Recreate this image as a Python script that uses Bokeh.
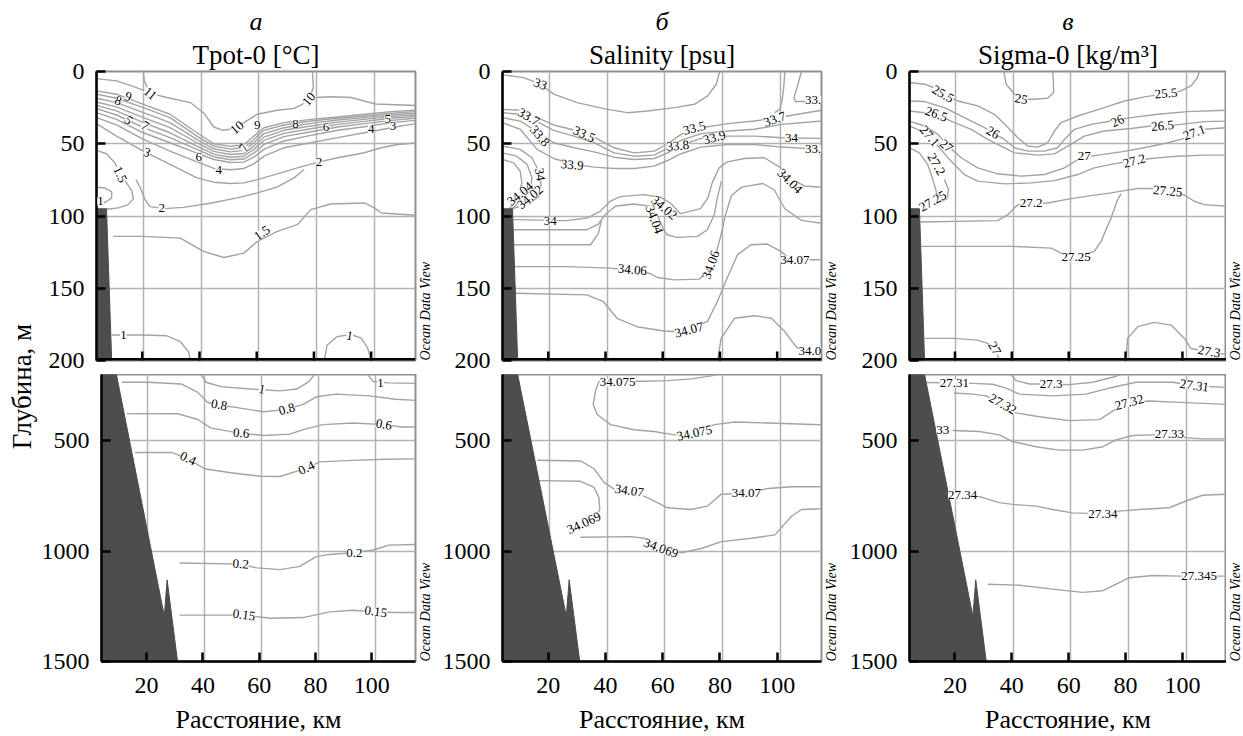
import math
from bokeh.plotting import figure
from bokeh.models import ColumnDataSource, Range1d, FixedTicker, Label, LabelSet, Title, Span
from bokeh.layouts import row, column
from bokeh.core.properties import value
from bokeh.embed import file_html
from bokeh.resources import INLINE

SERIF = "Liberation Serif"

# ---------------- texts ----------------
panel_letters = ["а", "б", "в"]
panel_titles = ["Tpot-0 [°C]", "Salinity [psu]", "Sigma-0 [kg/m³]"]
x_label = "Расстояние, км"
y_label = "Глубина, м"
watermark = "Ocean Data View"

# ---------------- axes ----------------
km_range = (4.0, 115.5)
x_ticks = [20, 40, 60, 80, 100]
grid_km = [20.3, 40.6, 60.7, 81.0, 101.3]
upper_range = (200, 0)
lower_range = (1500, 200)
upper_ticks = [0, 50, 100, 150, 200]
lower_ticks = [500, 1000, 1500]
upper_grid = [50, 100, 150]
lower_grid = [500, 1000]

# ---------------- bottom topography ----------------
bathy_upper_km = [4.0, 7.5, 9.3, 4.0]
bathy_upper_depth = [95, 95, 200, 200]
bathy_lower_km = [4.0, 9.3, 26.3, 27.3, 31.0, 4.0]
bathy_lower_depth = [200, 200, 1295, 1130, 1500, 1500]

# ---------------- (a) potential temperature, 0-200 m ----------------
temp_km = [4, 11, 20.4, 29.7, 39.1, 45, 50.8, 55.5, 59, 62.5, 69.5, 78.9, 88.3, 97.6, 107, 115.5]
temp_upper_lines = [
    ([4, 11, 18, 21.6], [4.9, 6.5, 11.1, 13.9]),
    ([20.4, 20.7, 22.1], [0, 6.5, 12.3]),
    ([23.3, 28.6, 36.8, 41.4, 45, 48.2, 51.4, 55.5, 60.2, 67.2, 73, 76, 78.3, 79.8, 79.5],
     [15.3, 18, 21.5, 28.5, 38.4, 40.7, 39.8, 35.4, 29.6, 26.8, 25.5, 22.7, 19.2, 11.1, 0]),
    ([80.5, 86, 93, 101.5, 115.5], [18, 17.5, 18, 22.5, 23.5]),
    (temp_km, [13.4, 15.7, 22.7, 29.6, 42.4, 50, 51.8, 50.9, 44.7, 38.9, 35.4, 33.1, 31.5, 29.6, 27.8, 26.8]),
    (temp_km, [15.7, 18.5, 25, 31.9, 44.7, 51.6, 53.7, 52.8, 47, 40.7, 37, 34.3, 32.4, 30.8, 28.9, 27.8]),
    (temp_km, [18.5, 21.5, 28.5, 35.4, 47, 53.5, 55.6, 54.6, 49.3, 43, 38.9, 35.9, 33.6, 31.9, 30.1, 28.9]),
    (temp_km, [21.1, 24.5, 31.9, 38.9, 49.3, 55.3, 57.4, 56.7, 51.6, 45.4, 40.7, 37.7, 35, 33.1, 31.2, 30.1]),
    (temp_km, [23.4, 27.3, 35.4, 42.4, 51.6, 57.2, 59.3, 58.6, 53.9, 47.7, 42.8, 39.6, 36.6, 34.5, 32.4, 31.2]),
    (temp_km, [25.7, 30.1, 38.9, 45.8, 53.9, 59, 61.1, 60.6, 56.5, 50.5, 45.1, 41.7, 38.4, 36.1, 33.8, 32.4]),
    (temp_km, [28.5, 33.1, 42.4, 49.3, 56.5, 60.9, 63, 62.7, 59.3, 53.9, 48.1, 44.2, 40.7, 38.2, 35.4, 33.8]),
    (temp_km, [31.9, 37, 47, 55.1, 62.5, 67.1, 68, 67.1, 63.9, 58.6, 52.8, 49.3, 45.8, 42.4, 38.9, 36.1]),
    ([4, 11, 20.4, 29.7, 39.1, 45, 50.8, 55.5, 60.2, 67.2, 74.2, 81.8, 88.3, 97.6, 103.5, 109.3, 115.5],
     [36.1, 44.7, 55.1, 64.3, 73.6, 76.6, 77.5, 77.1, 74.8, 70.8, 66.7, 62.5, 59.7, 56.2, 52.8, 50.5, 49.5]),
    ([17.8, 19.4, 21, 22.7, 27.4, 34.4, 43.8, 53.2, 60.2, 67.2, 73, 76.6],
     [74.8, 81, 88.7, 93.5, 94.9, 94, 91.2, 87.5, 84, 79.9, 73.6, 67.8]),
    ([4, 7.5, 10.4, 12.2, 14.5, 16.3, 16.9, 15.1, 11.6, 8.5, 7.5],
     [54.6, 56.9, 63.2, 70.8, 77.1, 82.4, 88, 92.1, 94.4, 95.2, 95]),
    ([4, 6.9, 9.3, 9.3, 7.3, 5.2], [80.1, 80.6, 83.3, 87.5, 90.3, 91.7]),
    ([9.9, 20.4, 33.3, 41.4, 48.5, 55.5, 60.2, 67.2, 74.2, 78.9, 85.9, 97.6, 101.1, 103.5, 115.5],
     [114.1, 114.1, 115.3, 124.5, 128.7, 125.7, 117.6, 110.6, 106, 95.6, 91.7, 91, 94.4, 97.9, 99.5]),
    ([9.3, 20.4, 28.6, 33.3, 36.2, 36.8], [182.4, 182.4, 182.9, 187, 194, 200]),
    ([83.6, 84.6, 88, 93, 96.5, 98.8, 100], [200, 189.5, 183.5, 182, 184.5, 191.5, 200]),
]
temp_upper_labels = [
    ("11", 22.7, 15.3, -40), ("9", 15.1, 17.6, -20), ("8", 11.6, 20.4, -20), ("5", 15.1, 33.8, -40),
    ("7", 21, 37.7, -30), ("10", 53.2, 38.9, 40), ("9", 60.2, 37, 0), ("8", 73.6, 36.1, 0),
    ("6", 84.2, 38.4, 0), ("4", 100, 40, 0), ("5", 105.8, 33.1, 0), ("3", 107.6, 37.7, 0),
    ("10", 78.3, 19.2, 50), ("6", 39.7, 59.3, 0), ("7", 55.5, 52.8, 60), ("4", 46.7, 68.5, 0),
    ("3", 21.6, 56.2, -20), ("2", 81.8, 62.5, 0), ("2", 26.8, 94.4, 0), ("1.5", 12.2, 71.3, -65),
    ("1", 5.4, 89.8, 0), ("1.5", 61.9, 111.8, 35), ("1", 13.4, 182.4, 0), ("1", 92.5, 183, -10),
]

# ---------------- (a) potential temperature, 200-1500 m ----------------
temp_lower_lines = [
    ([39.3, 41.1, 46.4, 56.9, 61, 67.4, 73.3, 77.4, 79.7], [200, 235, 255, 266, 269, 274, 266, 235, 200]),
    ([98.5, 100.5, 106, 115.5], [200, 232, 238, 240]),
    ([11.3, 20.6, 32.3, 38.2, 41.7, 45.8, 52.2, 61.6, 69.8, 75.6, 80.3, 87.3, 99, 108.4, 115.5],
     [235, 235, 243, 281, 327, 338, 350, 369, 358, 335, 301, 289, 297, 312, 317]),
    ([13, 31.1, 38.2, 42.9, 51, 53.6, 61.6, 70.9, 75.6, 82.6, 93.2, 104.3, 110.7, 115.5],
     [377, 378, 404, 443, 461, 466, 476, 470, 450, 427, 420, 427, 438, 438]),
    ([15.9, 28.8, 34.7, 40.5, 49.9, 60.4, 67.4, 76.8, 81.5, 93.2, 104.9, 115.5],
     [553, 553, 581, 627, 645, 661, 662, 624, 596, 589, 584, 582]),
    ([31.7, 53.4, 59.2, 67.4, 74.4, 80.3, 85, 93.8, 100.2, 106, 115.5],
     [1054, 1059, 1076, 1084, 1069, 1025, 1015, 1007, 996, 973, 970]),
    ([31.7, 54.6, 63.9, 75.6, 85, 93.2, 101.4, 108.4, 115.5],
     [1290, 1290, 1304, 1301, 1275, 1268, 1275, 1278, 1278]),
]
temp_lower_labels = [
    ("1", 61, 267, -10), ("1", 103.1, 240, 0), ("0.8", 45.8, 338, -10), ("0.8", 69.8, 358, 15),
    ("0.6", 53.6, 466, -5), ("0.6", 104.3, 427, -10), ("0.4", 34.7, 581, -25), ("0.4", 76.8, 624, 25),
    ("0.2", 53.4, 1059, -5), ("0.2", 93.8, 1007, 0), ("0.15", 54.6, 1290, -8), ("0.15", 101.4, 1275, -8),
]

# ---------------- (б) salinity, 0-200 m ----------------
sal_km = [4, 10.2, 16.1, 21.9, 29, 36, 43, 50, 57, 61.7, 66.4, 73.4, 82.8, 92.1, 101.5, 115.5]
sal_upper_lines = [
    ([4.4, 11.4, 17.2, 21.9, 30.1, 40.6, 47.7, 54.7, 64.2, 71.1, 75.7, 78.7, 79.9],
     [2.3, 4.2, 8.8, 15.7, 21.5, 26.2, 28.5, 27.3, 25, 22.7, 16.9, 8.8, 0]),
    ([102.7, 102.3, 101.7, 100.9, 99.2], [0, 11.1, 20.4, 26.2, 28.5]),
    ([108.5, 107.1, 105.9, 106.4, 110.3], [0, 10, 18, 20.8, 20.8]),
    (sal_km, [26.2, 26.8, 31.9, 37, 40.5, 45.4, 52.8, 56.3, 55.1, 50, 43.5, 38.9, 36.1, 34.3, 31.5, 26.8]),
    (sal_km, [28.5, 29.6, 34.7, 40.7, 44.7, 49.3, 56.3, 58.6, 57.9, 53.2, 47.7, 43, 41.2, 40, 36.6, 34.3]),
    (sal_km, [31.9, 34.3, 41.7, 49.3, 52.8, 55.6, 59.3, 60.9, 60.2, 56.3, 50.9, 46.3, 44.7, 44.7, 45.8, 46.3]),
    (sal_km, [35.4, 40, 53.9, 60.2, 64.3, 66.2, 67.1, 67.1, 65.5, 61.6, 56.9, 52.3, 50.5, 50.5, 52.3, 53.9]),
    ([4, 10.2, 14.3, 16.7, 17.5, 16.7, 13.7, 9.0, 7.5], [51.6, 53.9, 59.7, 69, 78.2, 86.3, 91, 94, 95]),
    ([4, 9.0, 12.6, 14.3, 13.7, 11.4, 7.2], [56.3, 58.6, 64.3, 73.6, 81.7, 88.7, 95]),
    ([4, 7.9, 10.2, 10.8, 9.6, 6.5], [60.9, 63.2, 69, 77.1, 85.2, 95]),
    ([7.8, 26.4, 33.5, 38.1, 41.6, 45.1, 53.3, 59.2, 62.7, 66.2, 73.2, 75.8, 77.3, 79.7, 82.6, 88.5, 95.5,
      101.3, 104.9, 109.5, 115.5],
     [102.5, 103.2, 101.4, 96.8, 89.8, 86.6, 85.2, 87, 91, 98.4, 94.9, 87.5, 77.1, 66.7, 62.5, 60.2, 59.7,
      66.7, 74.3, 79.2, 80.1]),
    ([7.9, 33.5, 37.5, 39.9, 43.4, 49.8, 55.7, 58.3, 60.1, 61.5, 65, 72.1, 75.6, 78, 79.1, 80.5],
     [109.5, 109.5, 105.6, 99.1, 93.3, 91.7, 93.3, 100.2, 108.3, 113, 114.8, 114.1, 109.5, 99.1, 87.5, 75.9]),
    ([8.0, 34.8, 37.5, 38.6], [119.9, 119.9, 112, 103]),
    ([8.2, 26.6, 41.8, 55.3, 58.2, 64, 72.8, 76.3, 78.7, 80.4, 81.8, 84, 87.5, 95, 99, 102.7, 108.5, 115.5],
     [135, 135, 136.1, 139.6, 142.6, 144.2, 143.7, 137.3, 125.7, 113, 100.2, 86, 80, 77.5, 82, 95, 103, 105]),
    ([8.5, 33.5, 39.3, 44, 51, 60.4, 65.6, 75.6, 79.1, 82, 86.1, 90.8, 96.6, 101.3, 104.8, 113, 115.5],
     [153.5, 154.6, 159.3, 170.8, 176.6, 179.6, 180.1, 173.1, 159.3, 145.4, 126.9, 119.9, 119.4, 124.5,
      130.3, 130.3, 130.3]),
    ([79.2, 80.4, 85.1, 92.1, 98, 102.7, 106.2, 108.5], [200, 184.7, 170.8, 169, 170.8, 180.1, 189.4, 193.5]),
]
sal_upper_labels = [
    ("33", 17.2, 8.8, -20), ("33.7", 13.1, 31.5, -30), ("33.8", 17, 44.7, -50), ("33.5", 32.5, 43.5, -25),
    ("33.9", 28.4, 64.8, -5), ("34", 17, 71.3, -80), ("34.04", 10.2, 84.7, 40), ("34.02", 13.7, 87, 40),
    ("34", 20.7, 103.7, 0), ("33.5", 71.1, 39.3, 15), ("33.8", 65.3, 51.6, 5), ("33.9", 78.1, 45.8, 15),
    ("33.7", 99.2, 33.1, 20), ("34", 105, 46.3, 0), ("33.", 112.6, 53.9, 0), ("33.", 112.6, 19.5, 0),
    ("34.04", 104.4, 75.9, -45), ("34.02", 60.5, 94.4, -40), ("34.04", 57, 102.5, -70),
    ("34.06", 49.4, 137.3, -5), ("34.06", 76.9, 133.8, 70), ("34.07", 69.2, 179, 15),
    ("34.07", 106.2, 130.3, 0), ("34.0", 111.4, 193.5, 0),
]

# ---------------- (б) salinity, 200-1500 m ----------------
sal_lower_lines = [
    ([79, 77, 70, 61.7, 53.5, 44.2, 37.7, 36.5, 35.7, 37.1, 41.8, 50, 57, 64.1, 71.1, 78.1, 85.1, 96.8, 115.5],
     [200, 206, 220, 227.6, 230.7, 230.7, 232, 273.7, 335.2, 381.2, 427.3, 450.4, 458, 473.4, 465.7, 427.3,
      415, 419.6, 427.3]),
    ([16.1, 31.3, 36, 39.5, 43, 48.3, 54.7, 61.7, 69.9, 75.7, 80.4, 89.2, 96.8, 105, 115.5],
     [588.6, 591.7, 627, 688.4, 719.2, 726.8, 757.6, 803.6, 811.3, 796, 742.2, 737.6, 716.1, 708.4, 708.4]),
    ([16.8, 31.3, 36, 37.7, 38, 36.9], [680.8, 683.8, 711.5, 757.6, 811.3, 842]),
    ([31.3, 48.9, 53.6, 59.4, 66.5, 73.5, 80.5, 91, 99.2, 105, 108.5, 115.5],
     [937.3, 934.2, 941.9, 985, 1007.4, 988, 957.2, 941.9, 926.5, 842, 811.3, 808.3]),
]
sal_lower_labels = [
    ("34.075", 44.2, 236, 0), ("34.075", 71.1, 466, 12), ("34.07", 48.3, 727, -8),
    ("34.07", 89.2, 738, 0), ("34.069", 32.5, 873, 25), ("34.069", 59.4, 988, -20),
]

# ---------------- (в) sigma-0, 0-200 m ----------------
dens_upper_lines = [
    ([37.2, 38, 40.9, 43.3, 47.4, 52.6, 54.7, 54.6, 54.4], [0, 8.8, 15.7, 19.2, 19.2, 18.5, 14.6, 6.5, 0]),
    ([4, 9.3, 14, 15.7, 21, 28, 33.9, 37.6, 42.1, 45.6, 49.1, 52.6, 55, 57.3, 63.2, 72.5, 79.6, 86.6, 94.2,
      99.5, 103, 105.3, 105.9],
     [7.6, 8.8, 12.3, 15.7, 20.4, 23.8, 29.6, 36.6, 45.8, 51.6, 52.3, 49.3, 41.2, 35.4, 30.8, 25, 20.4, 17.6,
      15.3, 13.4, 10, 4.2, 0]),
    ([4, 9.3, 16.3, 23.3, 30.4, 33.3, 37.4, 40.9, 45.6, 51.5, 56.1, 58.5, 62, 67.9, 74.9, 81.9, 91.3, 101.8, 115.5],
     [20.4, 20.8, 25, 31.9, 38.9, 42.4, 47, 52.8, 55.1, 55.1, 52.8, 47, 40, 36.6, 34.3, 31.9, 29.6, 27.8, 26.8]),
    ([4, 9.3, 13.4, 18.6, 25.7, 31.5, 37.4, 40.9, 49.1, 55, 59.7, 65.5, 72.5, 81.9, 88.9, 93, 99.5, 107.7, 115.5],
     [27.3, 28.5, 29.6, 34.3, 40, 47, 52.8, 56.3, 57.9, 57, 51.6, 44.7, 41.2, 39.4, 37.7, 37.7, 36.6, 34.7, 34.3]),
    ([4, 9.3, 14, 17.5, 22.2, 28, 35, 43.3, 51.5, 58.5, 64.3, 70.2, 78.4, 86.6, 94.8, 101.8, 107.7, 115.5],
     [34.3, 37.7, 43.5, 51.6, 59.7, 66.7, 70.8, 72.4, 71.3, 66.7, 59.7, 57.9, 55.6, 52.8, 49.3, 45.8, 40, 38.9]),
    ([4, 8.1, 11, 14, 18.6, 23.3, 28, 37.4, 46.8, 55, 63.2, 69, 74.9, 79.6, 83.1, 88.9, 98.3, 107.7, 115.5],
     [37.7, 41.2, 44.7, 51.6, 62, 71.3, 75.9, 77.8, 77.1, 75.5, 71.3, 66.7, 64.3, 62.7, 62, 60.2, 58.6, 57.9, 57.9]),
    ([4, 7.5, 10.4, 12.2, 13.4, 13.7], [52.8, 56.3, 64.3, 74.8, 82.9, 88.7]),
    ([16.3, 17.7, 17.2, 14.5], [74.8, 81.7, 88, 90.3]),
    ([7.9, 35, 38.6, 41.5, 42.7, 52.6, 60.8, 67.9, 74.9, 79.6, 84.3, 89.5, 94.8, 100.7, 104.2, 107.7, 115.5],
     [104.2, 103.2, 99.1, 93.3, 91.7, 91, 88, 85.9, 84, 82.4, 81, 81, 82.9, 85.6, 89.8, 92.1, 93.3]),
    ([8.2, 39.7, 53.8, 57.3, 62.6, 69, 71.4, 73.1, 74.9, 77.2, 78.4],
     [121, 121, 122.2, 125.7, 128.7, 124.5, 117.6, 109.5, 101.4, 88.7, 84.7]),
    ([9.3, 19.8, 28, 31.5, 33.9, 35, 35.6], [184.7, 184.7, 185.9, 188.2, 191.7, 196.3, 200]),
    ([80.2, 80.7, 84.3, 90.1, 96, 100.7, 103, 109.4, 115.5], [200, 184.7, 176.6, 173.6, 175.5, 184.7, 191.7, 194, 195.8]),
]
dens_upper_labels = [
    ("25.5", 15.7, 15.7, -30), ("26.5", 13.4, 29.6, -20), ("27.1", 11, 44.7, -50), ("27", 16.9, 51.6, -40),
    ("27.2", 13.4, 64.3, -60), ("27.25", 12.2, 89.8, 30), ("26", 33.3, 42.4, -30), ("25", 43.3, 19.2, -10),
    ("27", 65.5, 58.6, 0), ("27.2", 83.1, 62, 15), ("26", 77.2, 34.3, 25), ("25.5", 94.2, 15.3, 5),
    ("26.5", 93, 37.7, 5), ("27.1", 104.2, 42.4, 20), ("27.2", 46.8, 91, 0), ("27.25", 94.8, 82.9, -5),
    ("27.25", 62.6, 128.7, 0), ("27", 33.9, 191.7, -60), ("27.3", 109.4, 194, -10),
]

# ---------------- (в) sigma-0, 200-1500 m ----------------
dens_lower_lines = [
    ([39.7, 41.5, 46.2, 53.8, 60.2, 68.4, 75.5, 78.4], [200, 227.6, 243, 243, 246, 235.3, 212.3, 200]),
    ([10, 26.3, 33.3, 38, 42.7, 54.4, 66.1, 74.3, 83.7, 96.6, 104.2, 115.5],
     [236, 240, 244, 262, 289, 296.8, 289, 261.4, 235.3, 235.3, 250.7, 258.4]),
    ([19.6, 26.3, 31, 36.8, 41.5, 48.5, 60.2, 70.8, 75.5, 81.3, 88.4, 101.2, 115.5],
     [284, 289, 296.8, 335.2, 373.6, 388.9, 408.9, 404.3, 365.9, 327.5, 319.8, 327.5, 335.2]),
    ([19.2, 28.6, 35.6, 40.3, 48.5, 56.7, 64.9, 72, 76.6, 82.5, 89.5, 95.4, 101.2, 107.1, 115.5],
     [453.4, 458, 473.4, 504, 527.2, 542.5, 542.5, 527.2, 496.4, 476.5, 473.4, 470.3, 485.7, 491.8, 491.8]),
    ([22.7, 28.6, 35.6, 40.3, 48.5, 54.4, 61.4, 72, 77.8, 84.8, 95.4, 101.2, 107.1, 115.5],
     [747, 753, 780.6, 788.3, 796, 811.3, 826.7, 831.3, 819, 811.3, 803.6, 772.9, 746.8, 742.2]),
    ([31.5, 42.7, 54.4, 64.9, 72, 77.8, 81.3, 89.5, 98.9, 105.9, 115.5],
     [1150, 1154.3, 1172, 1186.7, 1179.3, 1142.6, 1120.5, 1110.2, 1113.2, 1113.2, 1113.2]),
]
dens_lower_labels = [
    ("27.31", 19.8, 240, 0), ("27.3", 53.8, 243, 0), ("27.31", 104.2, 251, -8), ("27.32", 36.8, 335, -30),
    ("27.32", 81.3, 327, 15), ("33", 15.7, 450, 0), ("27.33", 95.4, 470, 0), ("27.34", 22.7, 747, 0),
    ("27.34", 72, 831, 0), ("27.345", 105.9, 1113, 0),
]

# ---------------- layout geometry (pixels) ----------------
COL_GEOM = [(58, 319, 2), (67, 319, 2), (68, 317, 0)]   # left border, frame width, right border
ODV_W = [18, 18, 17]                                     # strip carrying the vertical "Ocean Data View"
ODV_X = [8.3, 8.3, 8.8]                                  # centre of that vertical text inside the strip
UPPER_GEOM = (71, 289, 14)                               # top border, frame height, bottom border
LOWER_GEOM = (0, 287, 75)
YLAB_W = 38

CONTOUR = "#a3a3a3"
LAND = "#4d4d4d"


def style_axis(ax):
    ax.axis_line_color = "black"
    ax.axis_line_width = 2.5
    ax.major_tick_line_color = "black"
    ax.major_tick_line_width = 2.5
    ax.major_tick_in = 9
    ax.major_tick_out = 0
    ax.minor_tick_in = 0
    ax.minor_tick_out = 0
    ax.major_label_text_font = SERIF
    ax.major_label_text_font_size = "24px"
    ax.major_label_text_color = "black"


def build(col, upper, lines, labels):
    left, fw, right = COL_GEOM[col]
    top, fh, bottom = UPPER_GEOM if upper else LOWER_GEOM
    yr = Range1d(*(upper_range if upper else lower_range))
    p = figure(width=left + fw + right, height=top + fh + bottom, title=None,
               x_range=Range1d(*km_range), y_range=yr,
               x_axis_location=None if upper else "below",
               min_border_left=left, min_border_right=right,
               min_border_top=top, min_border_bottom=bottom,
               toolbar_location=None, output_backend="svg",
               background_fill_color="white", border_fill_color="white")
    p.outline_line_color = "#8f8f8f"
    p.outline_line_width = 2

    p.xgrid.ticker = FixedTicker(ticks=grid_km)
    p.ygrid.ticker = FixedTicker(ticks=upper_grid if upper else lower_grid)
    p.grid.grid_line_color = "#b3b3b3"
    p.grid.grid_line_width = 1.5

    style_axis(p.yaxis[0])
    p.yaxis.ticker = FixedTicker(ticks=upper_ticks if upper else lower_ticks)
    p.yaxis.major_label_standoff = 12
    if not upper:
        style_axis(p.xaxis[0])
        p.xaxis.ticker = FixedTicker(ticks=x_ticks)
        p.xaxis.major_label_standoff = 16
        p.xaxis.axis_label = x_label
        p.xaxis.axis_label_text_font = SERIF
        p.xaxis.axis_label_text_font_size = "26px"
        p.xaxis.axis_label_text_font_style = "normal"
        p.xaxis.axis_label_text_color = "black"
        p.xaxis.axis_label_standoff = 9

    src = ColumnDataSource(dict(xs=[l[0] for l in lines], ys=[l[1] for l in lines]))
    p.multi_line("xs", "ys", source=src, line_color=CONTOUR, line_width=1.4, line_join="round")

    if upper:
        p.patch(bathy_upper_km, bathy_upper_depth, fill_color=LAND, line_color=LAND, line_width=1)
        # bottom edge of the upper panel: black line with inward ticks (no tick labels)
        p.add_layout(Span(location=upper_range[0], dimension="width", line_color="black", line_width=5))
        p.scatter(x_ticks, [upper_range[0]] * len(x_ticks), marker="dash", angle=math.pi / 2,
                  size=18, line_color="black", line_width=2.5)
    else:
        p.patch(bathy_lower_km, bathy_lower_depth, fill_color=LAND, line_color=LAND, line_width=1)

    lab_src = ColumnDataSource(dict(
        x=[l[1] for l in labels], y=[l[2] for l in labels], text=[l[0] for l in labels],
        angle=[math.radians(l[3]) for l in labels]))
    p.add_layout(LabelSet(x="x", y="y", text="text", angle="angle", source=lab_src,
                          text_font=value(SERIF), text_font_size="13px", text_color="black",
                          text_align="center", text_baseline="middle",
                          background_fill_color="white", background_fill_alpha=1.0))

    if upper:
        p.add_layout(Title(text=panel_titles[col], align="center", text_font=SERIF,
                           text_font_size="27px", text_font_style="normal", text_color="black",
                           standoff=4), "above")
        p.add_layout(Title(text=panel_letters[col], align="center", text_font=SERIF,
                           text_font_size="26px", text_font_style="italic", text_color="black",
                           standoff=0), "above")
    return p


def odv_strip(col, upper):
    """Narrow strip right of a panel, with the same vertical frame as the panel."""
    top, fh, bottom = UPPER_GEOM if upper else LOWER_GEOM
    rng = upper_range if upper else lower_range
    w = ODV_W[col]
    f = figure(width=w, height=top + fh + bottom, title=None, x_range=Range1d(0, w),
               y_range=Range1d(*rng), x_axis_type=None, y_axis_type=None,
               toolbar_location=None, output_backend="svg",
               min_border_left=0, min_border_right=0, min_border_top=top, min_border_bottom=bottom,
               outline_line_color=None, background_fill_color="white", border_fill_color="white")
    f.add_layout(Label(x=ODV_X[col], y=rng[0], text=watermark, angle=math.pi / 2,
                       text_align="left", text_baseline="middle", text_font=SERIF,
                       text_font_style="italic", text_font_size="14px", text_color="black"))
    return f


panels_upper = [temp_upper_lines, sal_upper_lines, dens_upper_lines]
labels_upper = [temp_upper_labels, sal_upper_labels, dens_upper_labels]
panels_lower = [temp_lower_lines, sal_lower_lines, dens_lower_lines]
labels_lower = [temp_lower_labels, sal_lower_labels, dens_lower_labels]

top_items, bottom_items = [], []
for i in range(3):
    top_items += [build(i, True, panels_upper[i], labels_upper[i]), odv_strip(i, True)]
    bottom_items += [build(i, False, panels_lower[i], labels_lower[i]), odv_strip(i, False)]

total_h = sum(UPPER_GEOM) + sum(LOWER_GEOM)
ylab = figure(width=YLAB_W, height=total_h, title=None, x_range=Range1d(0, YLAB_W),
              y_range=Range1d(total_h, 0), x_axis_type=None, y_axis_type=None,
              toolbar_location=None, output_backend="svg", min_border=0,
              outline_line_color=None, background_fill_color="white", border_fill_color="white")
ylab.add_layout(Label(x=21, y=386, text=y_label, angle=math.pi / 2, text_align="center",
                      text_baseline="middle", text_font=SERIF, text_font_size="27px",
                      text_color="black"))

layout = row(ylab, column(row(*top_items), row(*bottom_items)))
open("out.html", "w").write(file_html(layout, INLINE, "section"))
